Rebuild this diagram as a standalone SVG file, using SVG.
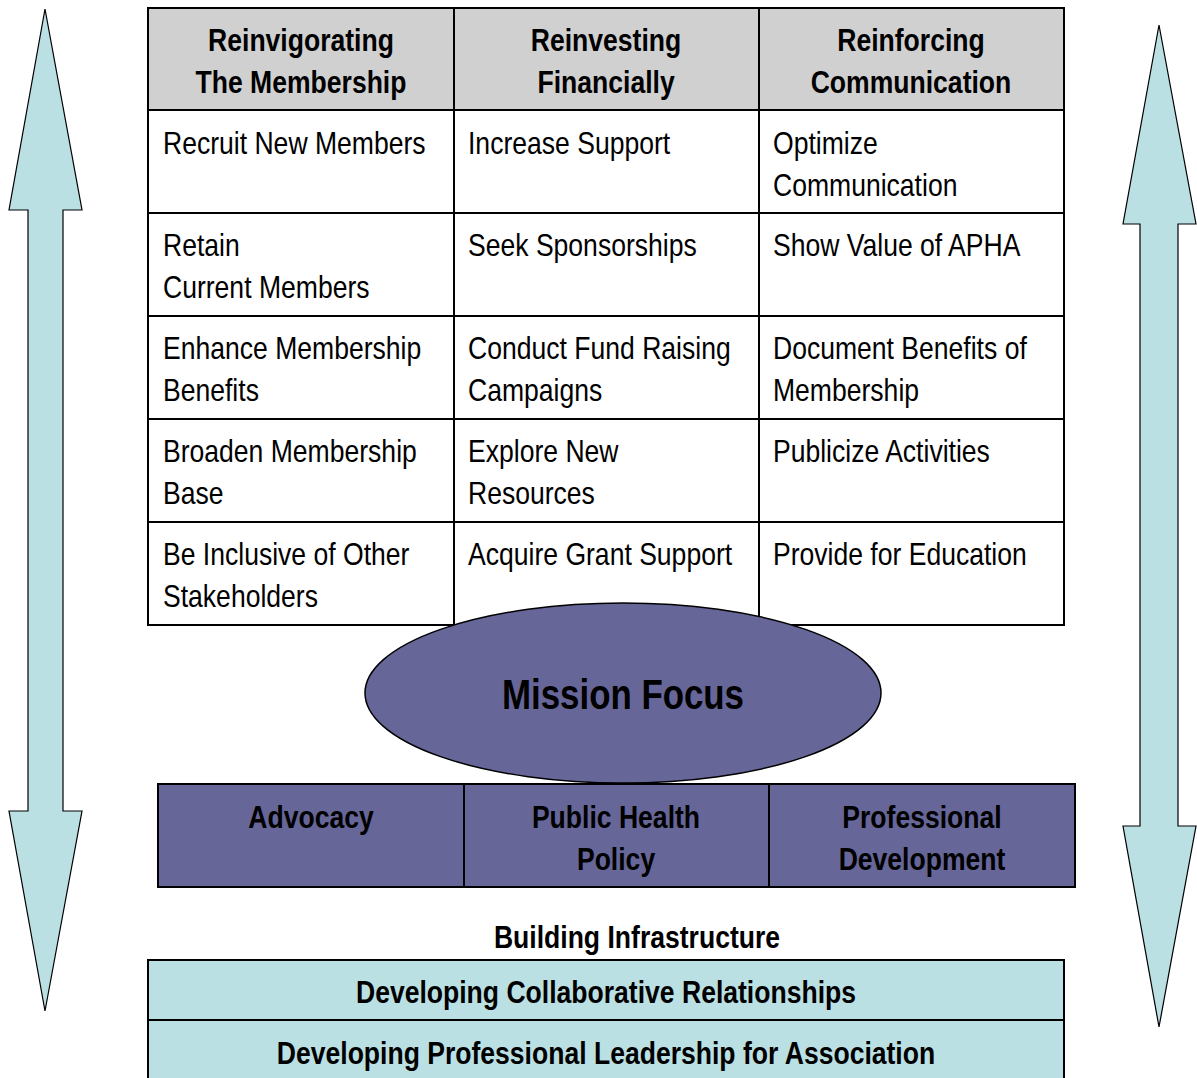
<svg xmlns="http://www.w3.org/2000/svg" width="1197" height="1078" viewBox="0 0 1197 1078">
  <style>
    text { font-family: "Liberation Sans", Arial, sans-serif; font-size: 32px; fill: #000;
           transform-box: fill-box; transform-origin: left center; transform: scaleX(0.83); }
    .b { font-weight: bold; }
    .c { text-anchor: middle; transform-origin: center center; }
    .arrow { fill: #BBE0E3; stroke: #000; stroke-width: 1.2; stroke-linejoin: miter; }
    .hdr { fill: #D0D0D0; }
    .cell { fill: #FFFFFF; }
    .grid { stroke: #000; stroke-width: 2; fill: none; }
    .pillar { fill: #666699; stroke: #000; stroke-width: 2; }
    .base { fill: #BBE0E3; stroke: #000; stroke-width: 2; }
  </style>

  <rect width="1197" height="1078" fill="#FFFFFF"/>

  <!-- double-headed side arrows -->
  <g id="arrow-left">
    <polygon class="arrow" points="45,9 82,210 63,210 63,811 82,811 45,1011 9,811 28,811 28,210 9,210"/>
  </g>
  <g id="arrow-right">
    <polygon class="arrow" points="1159,25 1196,224 1178,224 1178,826 1196,826 1159,1027 1123,826 1140,826 1140,224 1123,224"/>
  </g>

  <!-- goals table -->
  <g id="table">
    <rect class="hdr" x="148" y="8" width="916" height="102"/>
    <rect class="cell" x="148" y="110" width="916" height="515"/>
    <path class="grid" d="M148,8 H1064 V625 H148 Z M148,110 H1064 M148,213 H1064 M148,316 H1064 M148,419 H1064 M148,522 H1064 M454,8 V625 M759,8 V625"/>
  </g>

  <g id="col-membership">
    <text class="b c" x="301" y="51">Reinvigorating</text>
    <text class="b c" x="301" y="93">The Membership</text>
    <text x="163" y="154">Recruit New Members</text>
    <text x="163" y="256">Retain</text>
    <text x="163" y="298">Current Members</text>
    <text x="163" y="359">Enhance Membership</text>
    <text x="163" y="401">Benefits</text>
    <text x="163" y="462">Broaden Membership</text>
    <text x="163" y="504">Base</text>
    <text x="163" y="565">Be Inclusive of Other</text>
    <text x="163" y="607">Stakeholders</text>
  </g>

  <g id="col-financial">
    <text class="b c" x="606" y="51">Reinvesting</text>
    <text class="b c" x="606" y="93">Financially</text>
    <text x="468" y="154">Increase Support</text>
    <text x="468" y="256">Seek Sponsorships</text>
    <text x="468" y="359">Conduct Fund Raising</text>
    <text x="468" y="401">Campaigns</text>
    <text x="468" y="462">Explore New</text>
    <text x="468" y="504">Resources</text>
    <text x="468" y="565">Acquire Grant Support</text>
  </g>

  <g id="col-communication">
    <text class="b c" x="911" y="51">Reinforcing</text>
    <text class="b c" x="911" y="93">Communication</text>
    <text x="773" y="154">Optimize</text>
    <text x="773" y="196">Communication</text>
    <text x="773" y="256">Show Value of APHA</text>
    <text x="773" y="359">Document Benefits of</text>
    <text x="773" y="401">Membership</text>
    <text x="773" y="462">Publicize Activities</text>
    <text x="773" y="565">Provide for Education</text>
  </g>

  <!-- pillars -->
  <g id="pillars">
    <rect class="pillar" x="158" y="784" width="917" height="103"/>
    <path class="grid" d="M464,784 V887 M769,784 V887"/>
    <text class="b c" x="311" y="828">Advocacy</text>
    <text class="b c" x="616" y="828">Public Health</text>
    <text class="b c" x="616" y="870">Policy</text>
    <text class="b c" x="922" y="828">Professional</text>
    <text class="b c" x="922" y="870">Development</text>
  </g>

  <!-- central focus -->
  <g id="mission-focus">
    <ellipse cx="623" cy="693" rx="258" ry="90" fill="#666699" stroke="#000" stroke-width="1.5"/>
    <text class="b c" x="623" y="709" style="font-size:42px">Mission Focus</text>
  </g>

  <!-- infrastructure base -->
  <g id="infrastructure">
    <text class="b c" x="637" y="948">Building Infrastructure</text>
    <rect class="base" x="148" y="960" width="916" height="130"/>
    <path class="grid" d="M148,1020 H1064"/>
    <text class="b c" x="606" y="1003">Developing Collaborative Relationships</text>
    <text class="b c" x="606" y="1064">Developing Professional Leadership for Association</text>
  </g>
</svg>
